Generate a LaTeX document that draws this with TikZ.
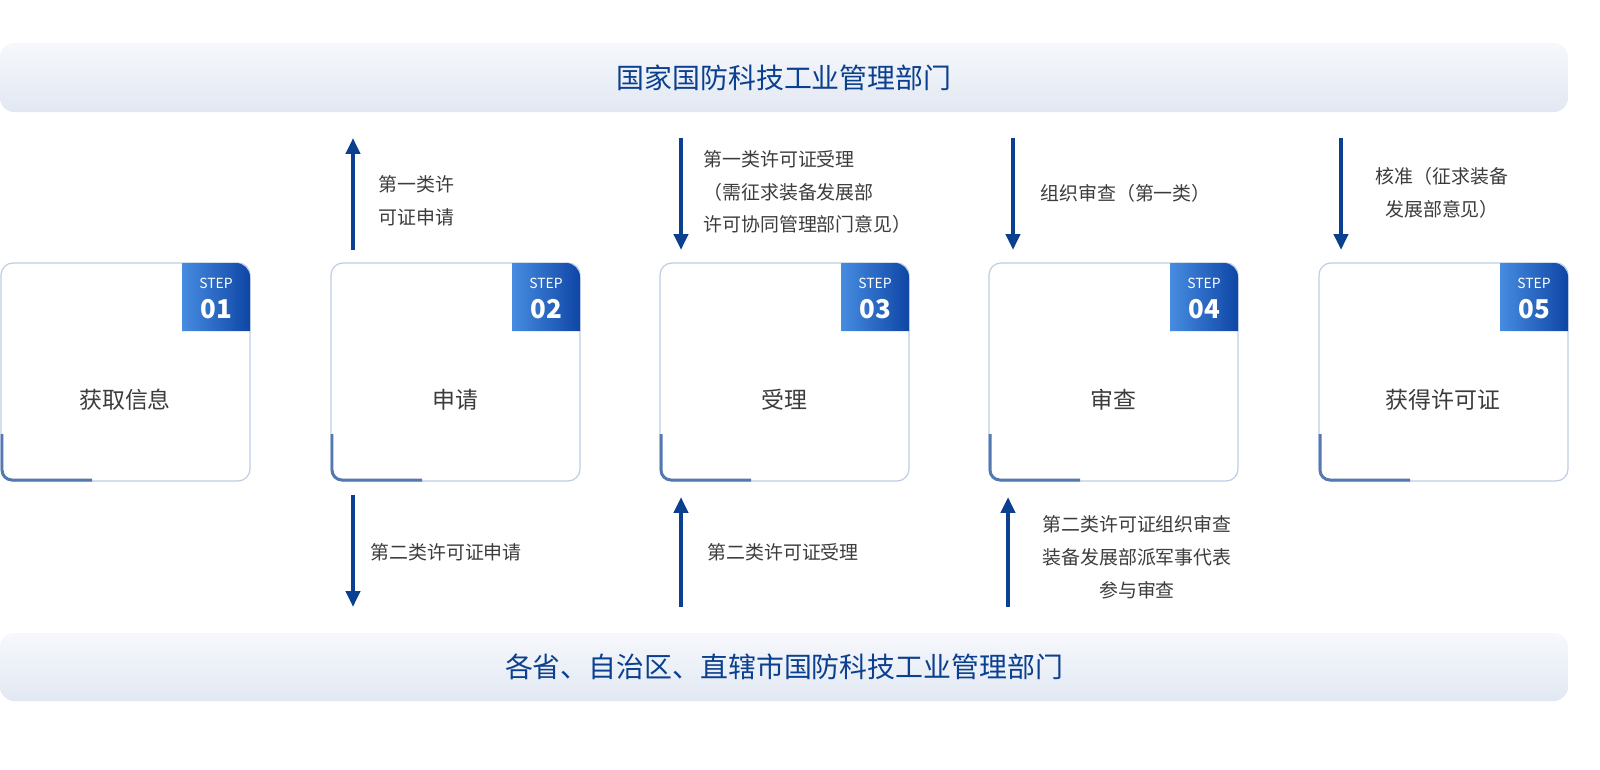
\documentclass[tikz,border=0pt]{standalone}
\usepackage{fontspec}
\setmainfont{Noto Sans CJK SC}
\usetikzlibrary{arrows.meta}
\definecolor{deepblue}{RGB}{11,63,143}
\definecolor{boxline}{RGB}{190,205,228}
\definecolor{bannerA}{RGB}{246,248,252}
\definecolor{bannerB}{RGB}{226,232,242}
\definecolor{badgeA}{RGB}{15,70,165}
\definecolor{badgeB}{RGB}{70,140,225}
\definecolor{txtgray}{RGB}{60,60,60}
\tikzset{every picture/.style={line width=0.75pt}}
\tikzset{
  banner/.style={rounded corners=14pt,top color=bannerA,bottom color=bannerB,draw=none},
  stepbox/.style={draw=boxline,line width=1.2pt,rounded corners=12pt,fill=white},
  flowarrow/.style={draw=deepblue,line width=4pt,-{Triangle[length=16pt,width=14pt]}},
  note/.style={anchor=west,align=left,font=\fontsize{19}{33}\selectfont,text=txtgray,inner sep=0pt},
  notec/.style={align=center,font=\fontsize{19}{33}\selectfont,text=txtgray,inner sep=0pt},
  boxlabel/.style={font=\fontsize{23}{28}\selectfont,text=txtgray}
}
\begin{document}
\begin{tikzpicture}[x=1bp,y=-1bp]
\useasboundingbox (0,0) rectangle (1600,770);

%banners
\path[banner] (0,43) rectangle (1568,112);
\node[text=deepblue,font=\fontsize{28}{32}\selectfont] (topbar) at (784,78) {国家国防科技工业管理部门};
\path[banner] (0,633) rectangle (1568,701);
\node[text=deepblue,font=\fontsize{28}{32}\selectfont] (botbar) at (784,667) {各省、自治区、直辖市国防科技工业管理部门};

%step boxes
\foreach \x/\n/\lab in {0/01/获取信息,330/02/申请,659/03/受理,988/04/审查,1318/05/获得许可证}{
  \draw[stepbox] (\x+1,263) rectangle (\x+250,481);
  \draw[deepblue!70,line width=3pt] (\x+2,434) [rounded corners=10pt] -- (\x+2,480) [sharp corners] -- (\x+92,480);
  \path[left color=badgeB,right color=badgeA]
    (\x+182,263) [rounded corners=14pt] -- (\x+250,263) [sharp corners] -- (\x+250,331) -- (\x+182,331) -- cycle;
  \node[text=white,font=\fontsize{14}{14}\selectfont] (s\n) at (\x+216,283) {STEP};
  \node[text=white,font=\bfseries\fontsize{26}{26}\selectfont] (n\n) at (\x+216,309) {\n};
  \node[boxlabel] (b\n) at (\x+125,400) {\lab};
}

%connectors
\coordinate (a2t) at (353,138); \coordinate (a2b) at (353,250);
\draw[flowarrow] (a2b) -- (a2t);
\node[note] (t2a) at (378,201) {第一类许\\可证申请};
\coordinate (c2t) at (353,495); \coordinate (c2b) at (353,607);
\draw[flowarrow] (c2t) -- (c2b);
\node[note] (t2b) at (370,552) {第二类许可证申请};

\coordinate (a3t) at (681,138); \coordinate (a3b) at (681,250);
\draw[flowarrow] (a3t) -- (a3b);
\node[note] (t3a) at (703,192) {第一类许可证受理\\（需征求装备发展部\\许可协同管理部门意见）};
\coordinate (c3t) at (681,497); \coordinate (c3b) at (681,607);
\draw[flowarrow] (c3b) -- (c3t);
\node[note] (t3b) at (707,552) {第二类许可证受理};

\coordinate (a4t) at (1013,138); \coordinate (a4b) at (1013,250);
\draw[flowarrow] (a4t) -- (a4b);
\node[note] (t4a) at (1040,193) {组织审查（第一类）};
\coordinate (c4t) at (1008,497); \coordinate (c4b) at (1008,607);
\draw[flowarrow] (c4b) -- (c4t);
\node[notec] (t4b) at (1137,557) {第二类许可证组织审查\\装备发展部派军事代表\\参与审查};

\coordinate (a5t) at (1341,138); \coordinate (a5b) at (1341,250);
\draw[flowarrow] (a5t) -- (a5b);
\node[notec] (t5a) at (1442,193) {核准（征求装备\\发展部意见）};
\end{tikzpicture}
\end{document}
